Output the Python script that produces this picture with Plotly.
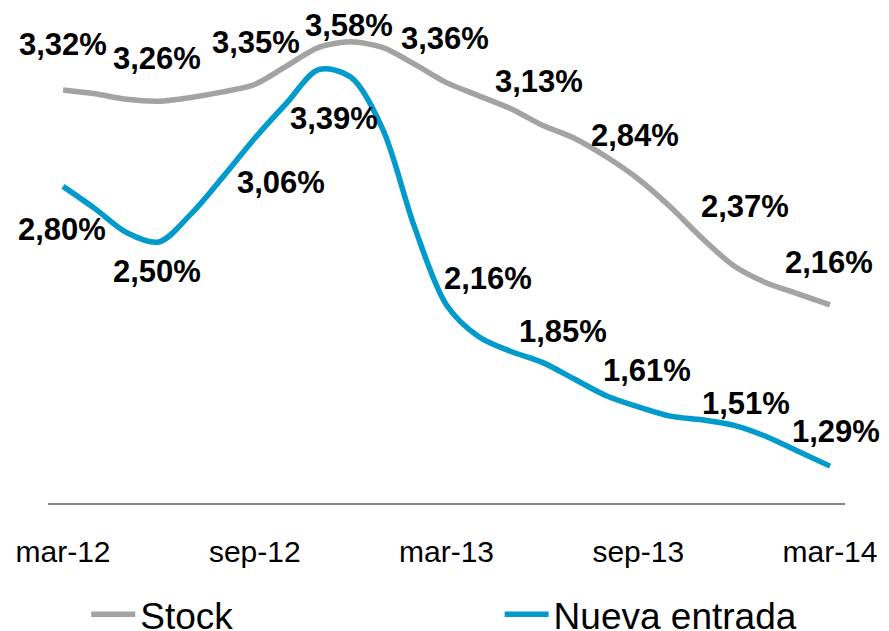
import plotly.graph_objects as go

# Monthly periods, March 2012 to March 2014
months = [
    "mar-12", "abr-12", "may-12", "jun-12", "jul-12", "ago-12", "sep-12",
    "oct-12", "nov-12", "dic-12", "ene-13", "feb-13", "mar-13", "abr-13",
    "may-13", "jun-13", "jul-13", "ago-13", "sep-13", "oct-13", "nov-13",
    "dic-13", "ene-14", "feb-14", "mar-14",
]

# Rates in percent
stock = [3.32, 3.30, 3.27, 3.26, 3.28, 3.31, 3.35, 3.45, 3.55, 3.58, 3.55, 3.46,
         3.36, 3.29, 3.22, 3.13, 3.06, 2.96, 2.84, 2.69, 2.52, 2.37, 2.28, 2.22, 2.16]
nueva_entrada = [2.80, 2.68, 2.55, 2.50, 2.65, 2.85, 3.06, 3.25, 3.43, 3.39, 3.11, 2.58,
                 2.16, 1.99, 1.91, 1.85, 1.76, 1.67, 1.61, 1.56, 1.54, 1.51, 1.45, 1.37, 1.29]

tick_labels = ["mar-12", "sep-12", "mar-13", "sep-13", "mar-14"]
labelled_idx = [0, 3, 6, 9, 12, 15, 18, 21, 24]

FONT = "Liberation Sans, Arial, sans-serif"
GRAY = "#A3A3A3"
BLUE = "#009ACD"

fig = go.Figure()
fig.add_trace(go.Scatter(
    x=months, y=stock, name="Stock", mode="lines", legend="legend",
    line=dict(color=GRAY, width=5.5, shape="spline", smoothing=0.8),
))
fig.add_trace(go.Scatter(
    x=months, y=nueva_entrada, name="Nueva entrada", mode="lines", legend="legend2",
    line=dict(color=BLUE, width=5.5, shape="spline", smoothing=0.9),
))

# Pixel offsets of the value labels relative to their points
stock_shift = [(0, 46), (-2, 43), (1, 42), (-2, 16), (-2, 44), (-3, 44), (-3, 43), (11, 60), (-1, 42)]
nueva_shift = [(-1, -43), (-2, -30), (26, -44), (-17, -41), (41, 26), (21, 31), (9, 36), (12, 22), (6, 35)]

def fmt(v):
    return f"{v:.2f}%".replace(".", ",")

annotations = []
for series, shifts in ((stock, stock_shift), (nueva_entrada, nueva_shift)):
    for i, (dx, dy) in zip(labelled_idx, shifts):
        annotations.append(dict(
            x=months[i], y=series[i], xref="x", yref="y",
            text=fmt(series[i]), showarrow=False,
            xshift=dx, yshift=dy,
            font=dict(family=FONT, size=31, color="black", weight="bold"),
        ))

legend_style = dict(
    orientation="h", xref="container", yref="container",
    y=0.075, xanchor="left", yanchor="top",
    font=dict(family=FONT, size=37, color="black"),
    itemwidth=44, bgcolor="rgba(0,0,0,0)",
)

fig.update_layout(
    width=889, height=631,
    margin=dict(l=48, r=38, t=20, b=128),
    paper_bgcolor="white", plot_bgcolor="white",
    showlegend=True,
    legend=dict(x=0.097, **legend_style),
    legend2=dict(x=0.562, **legend_style),
    annotations=annotations,
    xaxis=dict(
        type="category", range=[-0.47, 24.47],
        tickmode="array", tickvals=tick_labels, ticktext=tick_labels,
        ticks="outside", ticklen=21, tickcolor="rgba(0,0,0,0)",
        tickfont=dict(family=FONT, size=30, color="black"),
        showline=True, linecolor="#868686", linewidth=2,
        showgrid=False, zeroline=False,
    ),
    yaxis=dict(
        range=[1.091, 3.698], visible=False,
        showgrid=False, zeroline=False,
    ),
)

fig.write_html("out.html")
